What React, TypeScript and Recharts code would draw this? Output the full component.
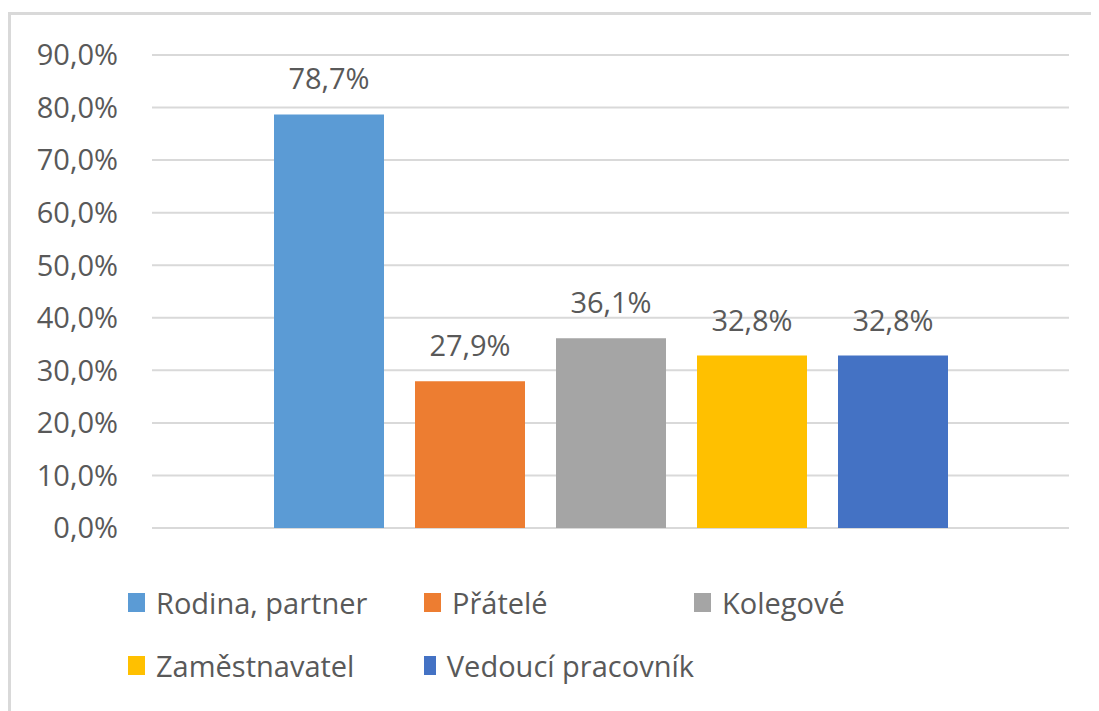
import React from "react";
import { BarChart, Bar, XAxis, YAxis, CartesianGrid, Legend, LabelList } from "recharts";

const categories = ["Celkem"];
const seriesNames = ["Rodina, partner", "Přátelé", "Kolegové", "Zaměstnavatel", "Vedoucí pracovník"];
const seriesValues = [78.7, 27.9, 36.1, 32.8, 32.8];
const seriesColors = ["#5B9BD5", "#ED7D31", "#A5A5A5", "#FFC000", "#4472C4"];
const yTicks = [0, 10, 20, 30, 40, 50, 60, 70, 80, 90];

const data = categories.map((c) => {
  const row: Record<string, any> = { name: c };
  seriesNames.forEach((s, i) => (row["s" + i] = seriesValues[i]));
  return row;
});

const FONT = "'Open Sans', sans-serif";
const TEXT = "#595959";
const FS = 29;

const fmtTick = (v: number) => v.toFixed(1).replace(".", ",") + "%";
const fmtLabel = (v: number) => String(v).replace(".", ",") + "%";

const LegendContent = (props: any) => {
  const payload = [...(props.payload || [])].sort(
    (a: any, b: any) => seriesNames.indexOf(a.value) - seriesNames.indexOf(b.value)
  );
  return (
    <div
      style={{
        display: "grid",
        gridTemplateColumns: "296px 270px 270px",
        gridAutoRows: "63px",
        fontFamily: FONT,
        fontSize: FS,
        color: TEXT,
      }}
    >
      {payload.map((p: any) => (
        <div key={p.value} style={{ display: "flex", alignItems: "center", whiteSpace: "nowrap" }}>
          <span
            style={{ display: "inline-block", width: 17, height: 19, background: p.color, marginRight: 11 }}
          />
          <span>{p.value}</span>
        </div>
      ))}
    </div>
  );
};

export default function App() {
  return (
    <div style={{ width: 1091, height: 699, marginTop: 4, overflow: "hidden" }}>
      <div
        style={{
          borderTop: "3px solid #d9d9d9",
          borderLeft: "3px solid #d9d9d9",
          width: 1200,
          height: 800,
          boxSizing: "border-box",
        }}
      >
        <BarChart
          width={1088}
          height={696}
          data={data}
          margin={{ top: 40, right: 30, bottom: 183, left: 0 }}
          barSize={110}
          barGap={31}
        >
          <CartesianGrid vertical={false} stroke="#d9d9d9" strokeWidth={2} />
          <XAxis dataKey="name" hide />
          <YAxis
            width={141}
            domain={[0, 90]}
            ticks={yTicks}
            tickFormatter={fmtTick}
            axisLine={false}
            tickLine={false}
            tickMargin={28}
            interval={0}
            tick={{ fill: TEXT, fontSize: FS, fontFamily: FONT }}
          />
          <Legend
            verticalAlign="middle"
            layout="horizontal"
            content={<LegendContent />}
            wrapperStyle={{ left: 117, top: 556, width: 900 }}
          />
          {seriesNames.map((s, i) => (
            <Bar key={s} dataKey={"s" + i} name={s} fill={seriesColors[i]} isAnimationActive={false}>
              <LabelList
                dataKey={"s" + i}
                position="top"
                offset={25}
                formatter={fmtLabel}
                fill={TEXT}
                fontSize={FS}
                fontFamily={FONT}
              />
            </Bar>
          ))}
        </BarChart>
      </div>
    </div>
  );
}
